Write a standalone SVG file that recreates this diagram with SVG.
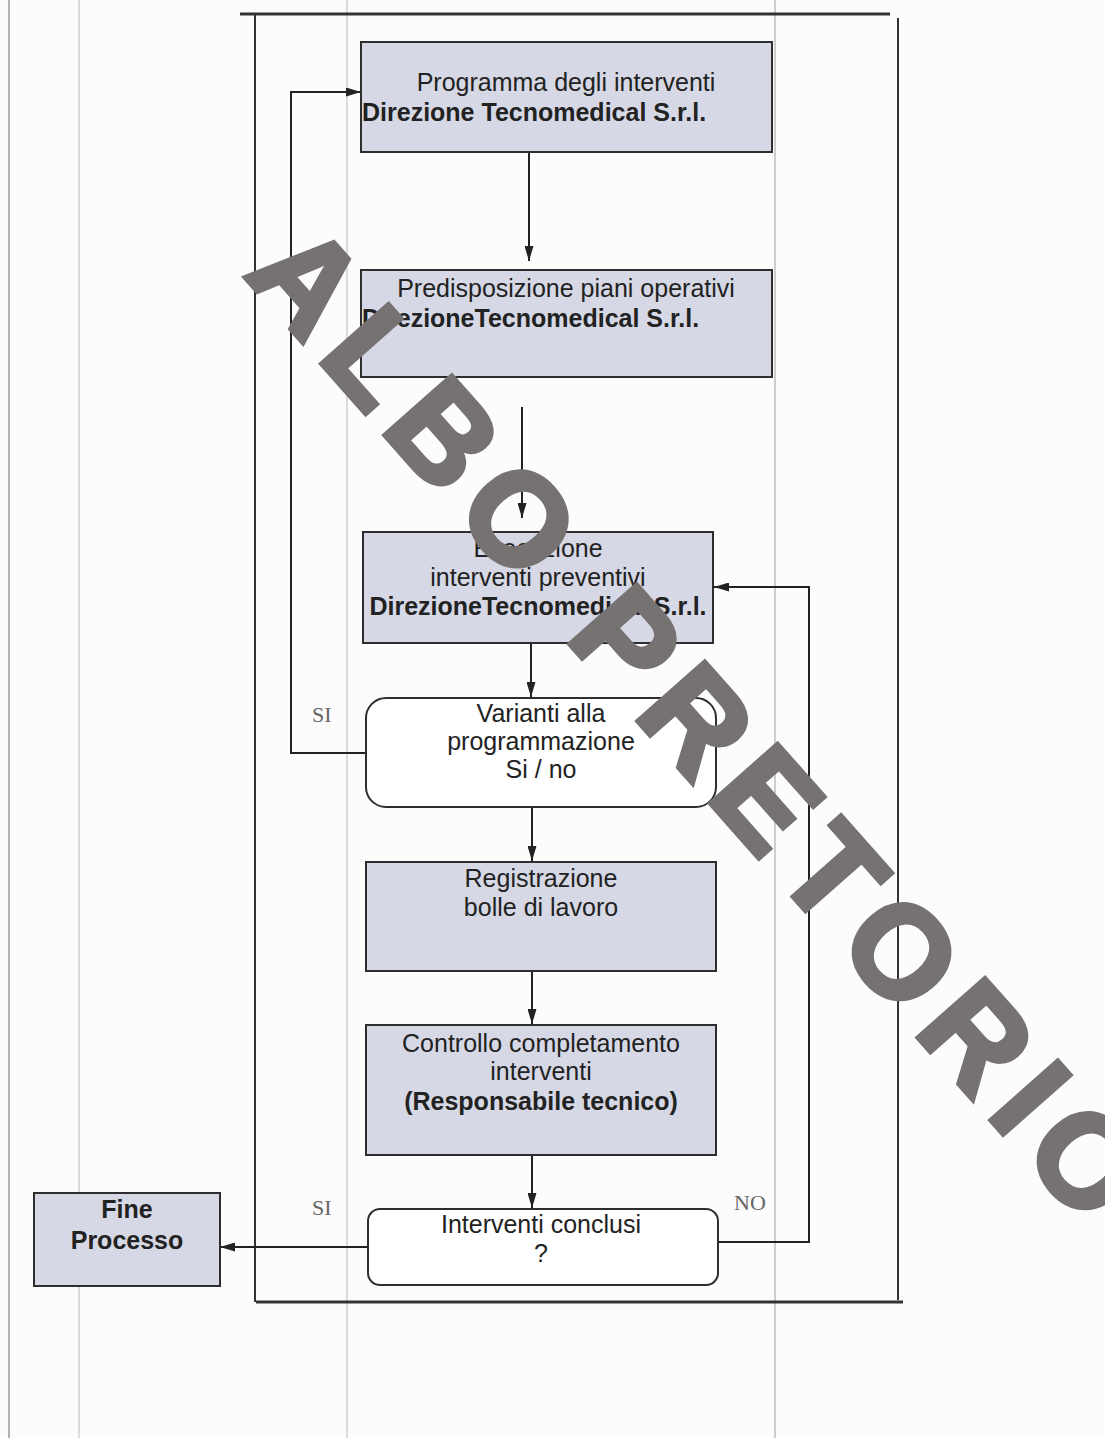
<svg xmlns="http://www.w3.org/2000/svg" width="1105" height="1438" viewBox="0 0 1105 1438">
<style>
.box{fill:#d6d9e5;stroke:#2e2e2e;stroke-width:2}
.rbox{fill:#ffffff;stroke:#2e2e2e;stroke-width:2}
.t{font-family:"Liberation Sans",Arial,sans-serif;font-size:25px;fill:#222;text-anchor:middle}
.b{font-weight:bold}
.l{text-anchor:start}
.lab{font-family:"Liberation Serif","Times New Roman",serif;font-size:22px;fill:#666}
.con{fill:none;stroke:#222;stroke-width:2}
.page{stroke:#d0d0d4;stroke-width:1.5}
.frame{fill:none;stroke:#333;stroke-width:2}
.wm{font-family:"Liberation Sans",Arial,sans-serif;font-size:130px;font-weight:bold;fill:#767272;stroke:#767272;stroke-width:5;stroke-linejoin:miter;letter-spacing:16px}
</style>
<defs>
<marker id="ah" markerUnits="userSpaceOnUse" markerWidth="15" markerHeight="9" refX="15" refY="4.5" orient="auto">
<path d="M0,0 L15,4.5 L0,9 z" fill="#222"/>
</marker>
</defs>
<rect x="0" y="0" width="1105" height="1438" fill="#fcfcfd"/>
<g id="page-lines">
<line class="page" x1="9" y1="0" x2="9" y2="1438" style="stroke:#9a9a9e"/>
<line class="page" x1="79" y1="0" x2="79" y2="1438"/>
<line class="page" x1="347" y1="0" x2="347" y2="1438"/>
<line class="page" x1="775" y1="0" x2="775" y2="1438" style="stroke:#bdbdc2"/>
</g>
<g id="frame">
<path class="frame" d="M240,14 H890" style="stroke-width:3"/>
<path class="frame" d="M255,14 V1302"/>
<path class="frame" d="M898,18 V1300"/>
<path class="frame" d="M256,1302 H903" style="stroke-width:3"/>
</g>
<g id="connectors">
<path class="con" d="M529,152 V261" marker-end="url(#ah)"/>
<path class="con" d="M522,407 V518" marker-end="url(#ah)"/>
<path class="con" d="M531,643 V697" marker-end="url(#ah)"/>
<path class="con" d="M532,807 V861" marker-end="url(#ah)"/>
<path class="con" d="M532,971 V1024" marker-end="url(#ah)"/>
<path class="con" d="M532,1155 V1208" marker-end="url(#ah)"/>
<path class="con" d="M366,753 H291 V92 H361" marker-end="url(#ah)"/>
<path class="con" d="M718,1242 H809 V587 H714" marker-end="url(#ah)"/>
<path class="con" d="M368,1247 H220" marker-end="url(#ah)"/>
<text class="lab" x="312" y="722">SI</text>
<text class="lab" x="312" y="1215">SI</text>
<text class="lab" x="734" y="1210">NO</text>
</g>
<g id="n1">
<rect class="box" x="361" y="42" width="411" height="110"/>
<text class="t" x="566" y="91">Programma degli interventi</text>
<text class="t b l" x="362" y="121">Direzione Tecnomedical S.r.l.</text>
</g>
<g id="n2">
<rect class="box" x="361" y="270" width="411" height="107"/>
<text class="t" x="566" y="297">Predisposizione piani operativi</text>
<text class="t b l" x="362" y="327">DirezioneTecnomedical S.r.l.</text>
</g>
<g id="n3">
<rect class="box" x="363" y="532" width="350" height="111"/>
<text class="t" x="538" y="557">Esecuzione</text>
<text class="t" x="538" y="586">interventi preventivi</text>
<text class="t b" x="538" y="615">DirezioneTecnomedical S.r.l.</text>
</g>
<g id="n4">
<rect class="rbox" x="366" y="698" width="350" height="109" rx="20"/>
<text class="t" x="541" y="722">Varianti alla</text>
<text class="t" x="541" y="750">programmazione</text>
<text class="t" x="541" y="778">Si / no</text>
</g>
<g id="n5">
<rect class="box" x="366" y="862" width="350" height="109"/>
<text class="t" x="541" y="887">Registrazione</text>
<text class="t" x="541" y="916">bolle di lavoro</text>
</g>
<g id="n6">
<rect class="box" x="366" y="1025" width="350" height="130"/>
<text class="t" x="541" y="1052">Controllo completamento</text>
<text class="t" x="541" y="1080">interventi</text>
<text class="t b" x="541" y="1110">(Responsabile tecnico)</text>
</g>
<g id="n7">
<rect class="rbox" x="368" y="1209" width="350" height="76" rx="12"/>
<text class="t" x="541" y="1233">Interventi conclusi</text>
<text class="t" x="541" y="1262">?</text>
</g>
<g id="n8">
<rect class="box" x="34" y="1193" width="186" height="93"/>
<text class="t b" x="127" y="1218">Fine</text>
<text class="t b" x="127" y="1249">Processo</text>
</g>
<g id="watermark">
<text class="wm" transform="translate(243,275) rotate(48.5)">ALBO PRETORIO</text>
</g>
</svg>
